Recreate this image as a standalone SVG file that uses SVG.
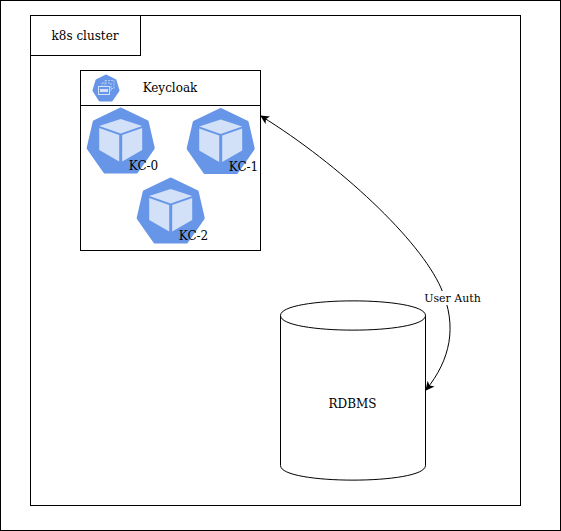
<svg xmlns="http://www.w3.org/2000/svg" width="561" height="531" viewBox="0 0 561 531">
<style>
.b{fill:#fff;stroke:#000;stroke-width:1}
text{font-family:"DejaVu Serif",serif;font-size:12px;fill:#000;text-anchor:middle}
.c{fill:none;stroke:#000;stroke-width:1}
.h{fill:#6796e8;stroke:#6796e8;stroke-width:4;stroke-linejoin:round}
.f{fill:#d2e1f8}
.d{fill:none;stroke:#b4cdf4;stroke-width:1;stroke-dasharray:2 1}
</style>
<defs>
<marker id="a" viewBox="0 0 10 10" refX="9" refY="5" markerWidth="9" markerHeight="9" markerUnits="userSpaceOnUse" orient="auto-start-reverse"><path d="M0 0L10 5L0 10L2.500 5Z" fill="#000"/></marker>
<g id="pod">
<polygon class="h" points="0,-30.500 26,-18 32,8 15.500,31.500 -15.500,31.500 -32,8 -26,-18"/>
<polygon class="f" points="0,-21 21.500,-14 0,-6.500 -21.500,-14"/>
<polygon class="f" points="-21.500,-12 -1.500,-5 -1.500,21.500 -21.500,10"/>
<polygon class="f" points="1.500,-5 21.500,-12 21.500,10 1.500,21.500"/>
</g>
</defs>
<g id="frame"><rect class="b" x="0.500" y="0.500" width="560" height="530"/></g>
<g id="k8s-cluster">
<rect class="b" x="30.500" y="15.500" width="490" height="490"/>
<rect class="b" x="30.500" y="15.500" width="110" height="40"/>
<text x="85" y="40">k8s cluster</text>
</g>
<g id="keycloak">
<rect class="b" x="80.500" y="70.500" width="180" height="180"/>
<path class="c" d="M80.500 105.500H260.500"/>
<text x="170" y="92">Keycloak</text>
<g id="keycloak-icon">
<polygon fill="#6796e8" stroke="#6796e8" stroke-width="3" stroke-linejoin="round" points="106,76 115,80.500 118,90.500 111.500,100 100,100 94,90.500 97,80.500"/>
<rect class="d" x="105" y="80.500" width="9" height="8"/>
<rect class="d" x="102" y="83" width="9" height="8"/>
<rect x="98.500" y="86.500" width="11" height="8" fill="#6796e8" stroke="#d2e1f8" stroke-width="1"/>
<rect x="100" y="89" width="8" height="3" fill="#d2e1f8"/>
</g>
</g>
<g id="kc-0"><use href="#pod" x="120.700" y="140"/><text x="143.500" y="170">KC-0</text></g>
<g id="kc-1"><use href="#pod" x="220.700" y="140.500"/><text x="243.500" y="171">KC-1</text></g>
<g id="kc-2"><use href="#pod" x="170.700" y="210"/><text x="193.500" y="240">KC-2</text></g>
<g id="rdbms">
<path class="b" d="M280.500 315.500C280.500 296 425.500 296 425.500 315.500V465.500C425.500 485 280.500 485 280.500 465.500Z"/>
<path class="c" d="M280.500 315.500C280.500 335 425.500 335 425.500 315.500"/>
<text x="352.500" y="408">RDBMS</text>
</g>
<g id="connectors">
<path class="c" marker-start="url(#a)" marker-end="url(#a)" d="M261 116C340 165 420 240 441 288C458 327 450 360 426 390"/>
<rect x="424" y="291" width="57" height="14" fill="#fff"/>
<text x="452.500" y="302" style="font-size:11px">User Auth</text>
</g>
</svg>
